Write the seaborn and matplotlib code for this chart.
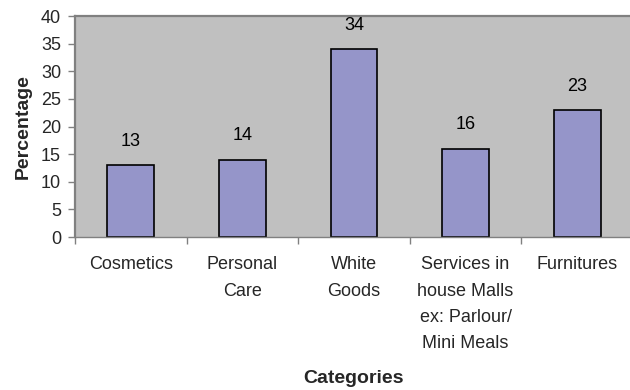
import matplotlib
matplotlib.use("Agg")
import matplotlib.pyplot as plt
import seaborn as sns
import pandas as pd

categories = ["Cosmetics", "Personal\nCare", "White\nGoods",
              "Services in\nhouse Malls\nex: Parlour/\nMini Meals", "Furnitures"]
percentages = [13, 14, 34, 16, 23]
y_ticks = [0, 5, 10, 15, 20, 25, 30, 35, 40]

sns.set_theme(style="white")
plt.rcParams["font.family"] = ["Liberation Sans", "DejaVu Sans"]

df = pd.DataFrame({"Categories": categories, "Percentage": percentages})

fig = plt.figure(figsize=(6.3, 3.9), dpi=100)
ax = fig.add_axes([75 / 630, 153 / 390, 558 / 630, 221 / 390])
ax.set_facecolor("#C0C0C0")

sns.barplot(data=df, x="Categories", y="Percentage", color="#9595C9",
            saturation=1, edgecolor="black", linewidth=1.2, width=0.42, ax=ax)

ax.bar_label(ax.containers[0], padding=11, fontsize=13, color="black")

ax.set_ylim(0, 40)
ax.set_xlim(-0.5, len(categories) - 0.5)
ax.set_yticks(y_ticks)
ax.tick_params(axis="y", which="major", length=5, width=1, color="#808080",
               labelsize=13, pad=5, left=True)
ax.tick_params(axis="x", which="major", length=0, labelsize=13, pad=14)
ax.set_xticks([i - 0.5 for i in range(len(categories) + 1)], minor=True)
ax.tick_params(axis="x", which="minor", length=5, width=1, color="#808080",
               bottom=True)
for lbl in ax.get_xticklabels():
    lbl.set_linespacing(1.7)

for side in ["top", "left"]:
    ax.spines[side].set_color("#808080")
    ax.spines[side].set_linewidth(1.6)
ax.spines["right"].set_visible(False)
ax.spines["bottom"].set_color("#808080")
ax.spines["bottom"].set_linewidth(1.0)

ax.set_xlabel("Categories", fontsize=14, fontweight="bold", labelpad=13)
ax.set_ylabel("Percentage", fontsize=14, fontweight="bold", labelpad=7)

fig.savefig("out.png", dpi=100)
